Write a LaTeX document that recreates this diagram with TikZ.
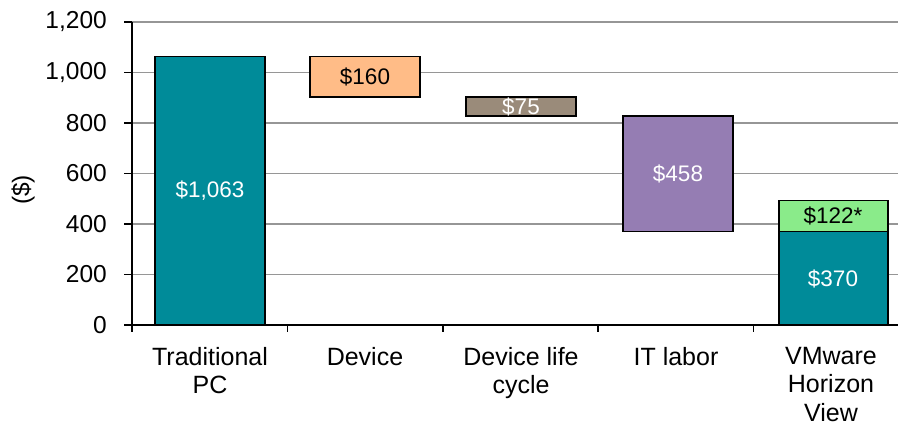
\documentclass[tikz,border=0pt]{standalone}
\usepackage{fontspec}
\setmainfont{Liberation Sans}
\definecolor{pcteal}{RGB}{0,139,153}
\definecolor{devorange}{RGB}{255,188,135}
\definecolor{cyclegray}{RGB}{154,139,122}
\definecolor{laborpurple}{RGB}{149,125,179}
\definecolor{savegreen}{RGB}{138,235,138}
\definecolor{gridgray}{RGB}{150,150,150}

\begin{document}
\begin{tikzpicture}[x=1pt,y=1pt,
    grid/.style={draw=gridgray,line width=1.5pt},
    axis/.style={draw=black,line width=1.6pt},
    bar/.style={draw=black,line width=1.3pt},
    num/.style={font=\fontsize{22.5}{27}\selectfont,inner sep=0pt},
    tick/.style={font=\fontsize{24.5}{27}\selectfont,inner sep=0pt,anchor=east},
    cat/.style={font=\fontsize{25}{28.5}\selectfont,align=center,anchor=north,inner sep=0pt}]
  \useasboundingbox (0,0) rectangle (898,427);
  \begin{scope}[yshift=102pt,y=0.2525pt]
    % grid and y axis
    \foreach \v in {200,400,...,1200}
      \draw[grid] (132,\v) -- (898,\v);
    \foreach \v/\t in {0/0,200/200,400/400,600/600,800/800,1000/{1,000},1200/{1,200}}
      \node[tick] (y\v) at (107,\v) {\t};
    \node[tick,anchor=center,rotate=90] (unit) at (23,535) {(\$)};
    % bars
    \draw[bar,fill=pcteal] (155,0) rectangle (265,1063);
    \node[num,text=white] (pc) at (210,531) {\$1,063};
    \draw[bar,fill=devorange] (310,903) rectangle (420,1063);
    \node[num] (dev) at (365,983) {\$160};
    \draw[bar,fill=cyclegray] (466,828) rectangle (576,903);
    \node[num,text=white] (cyc) at (521,865) {\$75};
    \draw[bar,fill=laborpurple] (623,370) rectangle (733,828);
    \node[num,text=white] (lab) at (678,599) {\$458};
    \draw[bar,fill=savegreen] (779,370) rectangle (888,492);
    \node[num] (save) at (833,431) {\$122*};
    \draw[bar,fill=pcteal] (779,0) rectangle (888,370);
    \node[num,text=white] (vm) at (833,181) {\$370};
    % axes
    \draw[axis] (132,0) -- (132,1200);
    \foreach \v in {0,200,...,1200}
      \draw[axis] (124,\v) -- (132,\v);
    \draw[axis] (132,0) -- (898,0);
    \foreach \x in {132,287.4,442.8,598.2,753.6}
      \draw[axis] (\x,0) -- (\x,-28);
    % category labels
    \node[cat] (c1) at (210,-87) {Traditional\\PC};
    \node[cat] (c2) at (365,-87) {Device};
    \node[cat] (c3) at (521,-87) {Device life\\cycle};
    \node[cat] (c4) at (676,-87) {IT labor};
    \node[cat] (c5) at (831,-87) {VMware\\Horizon\\View};
  \end{scope}
\end{tikzpicture}
\end{document}
